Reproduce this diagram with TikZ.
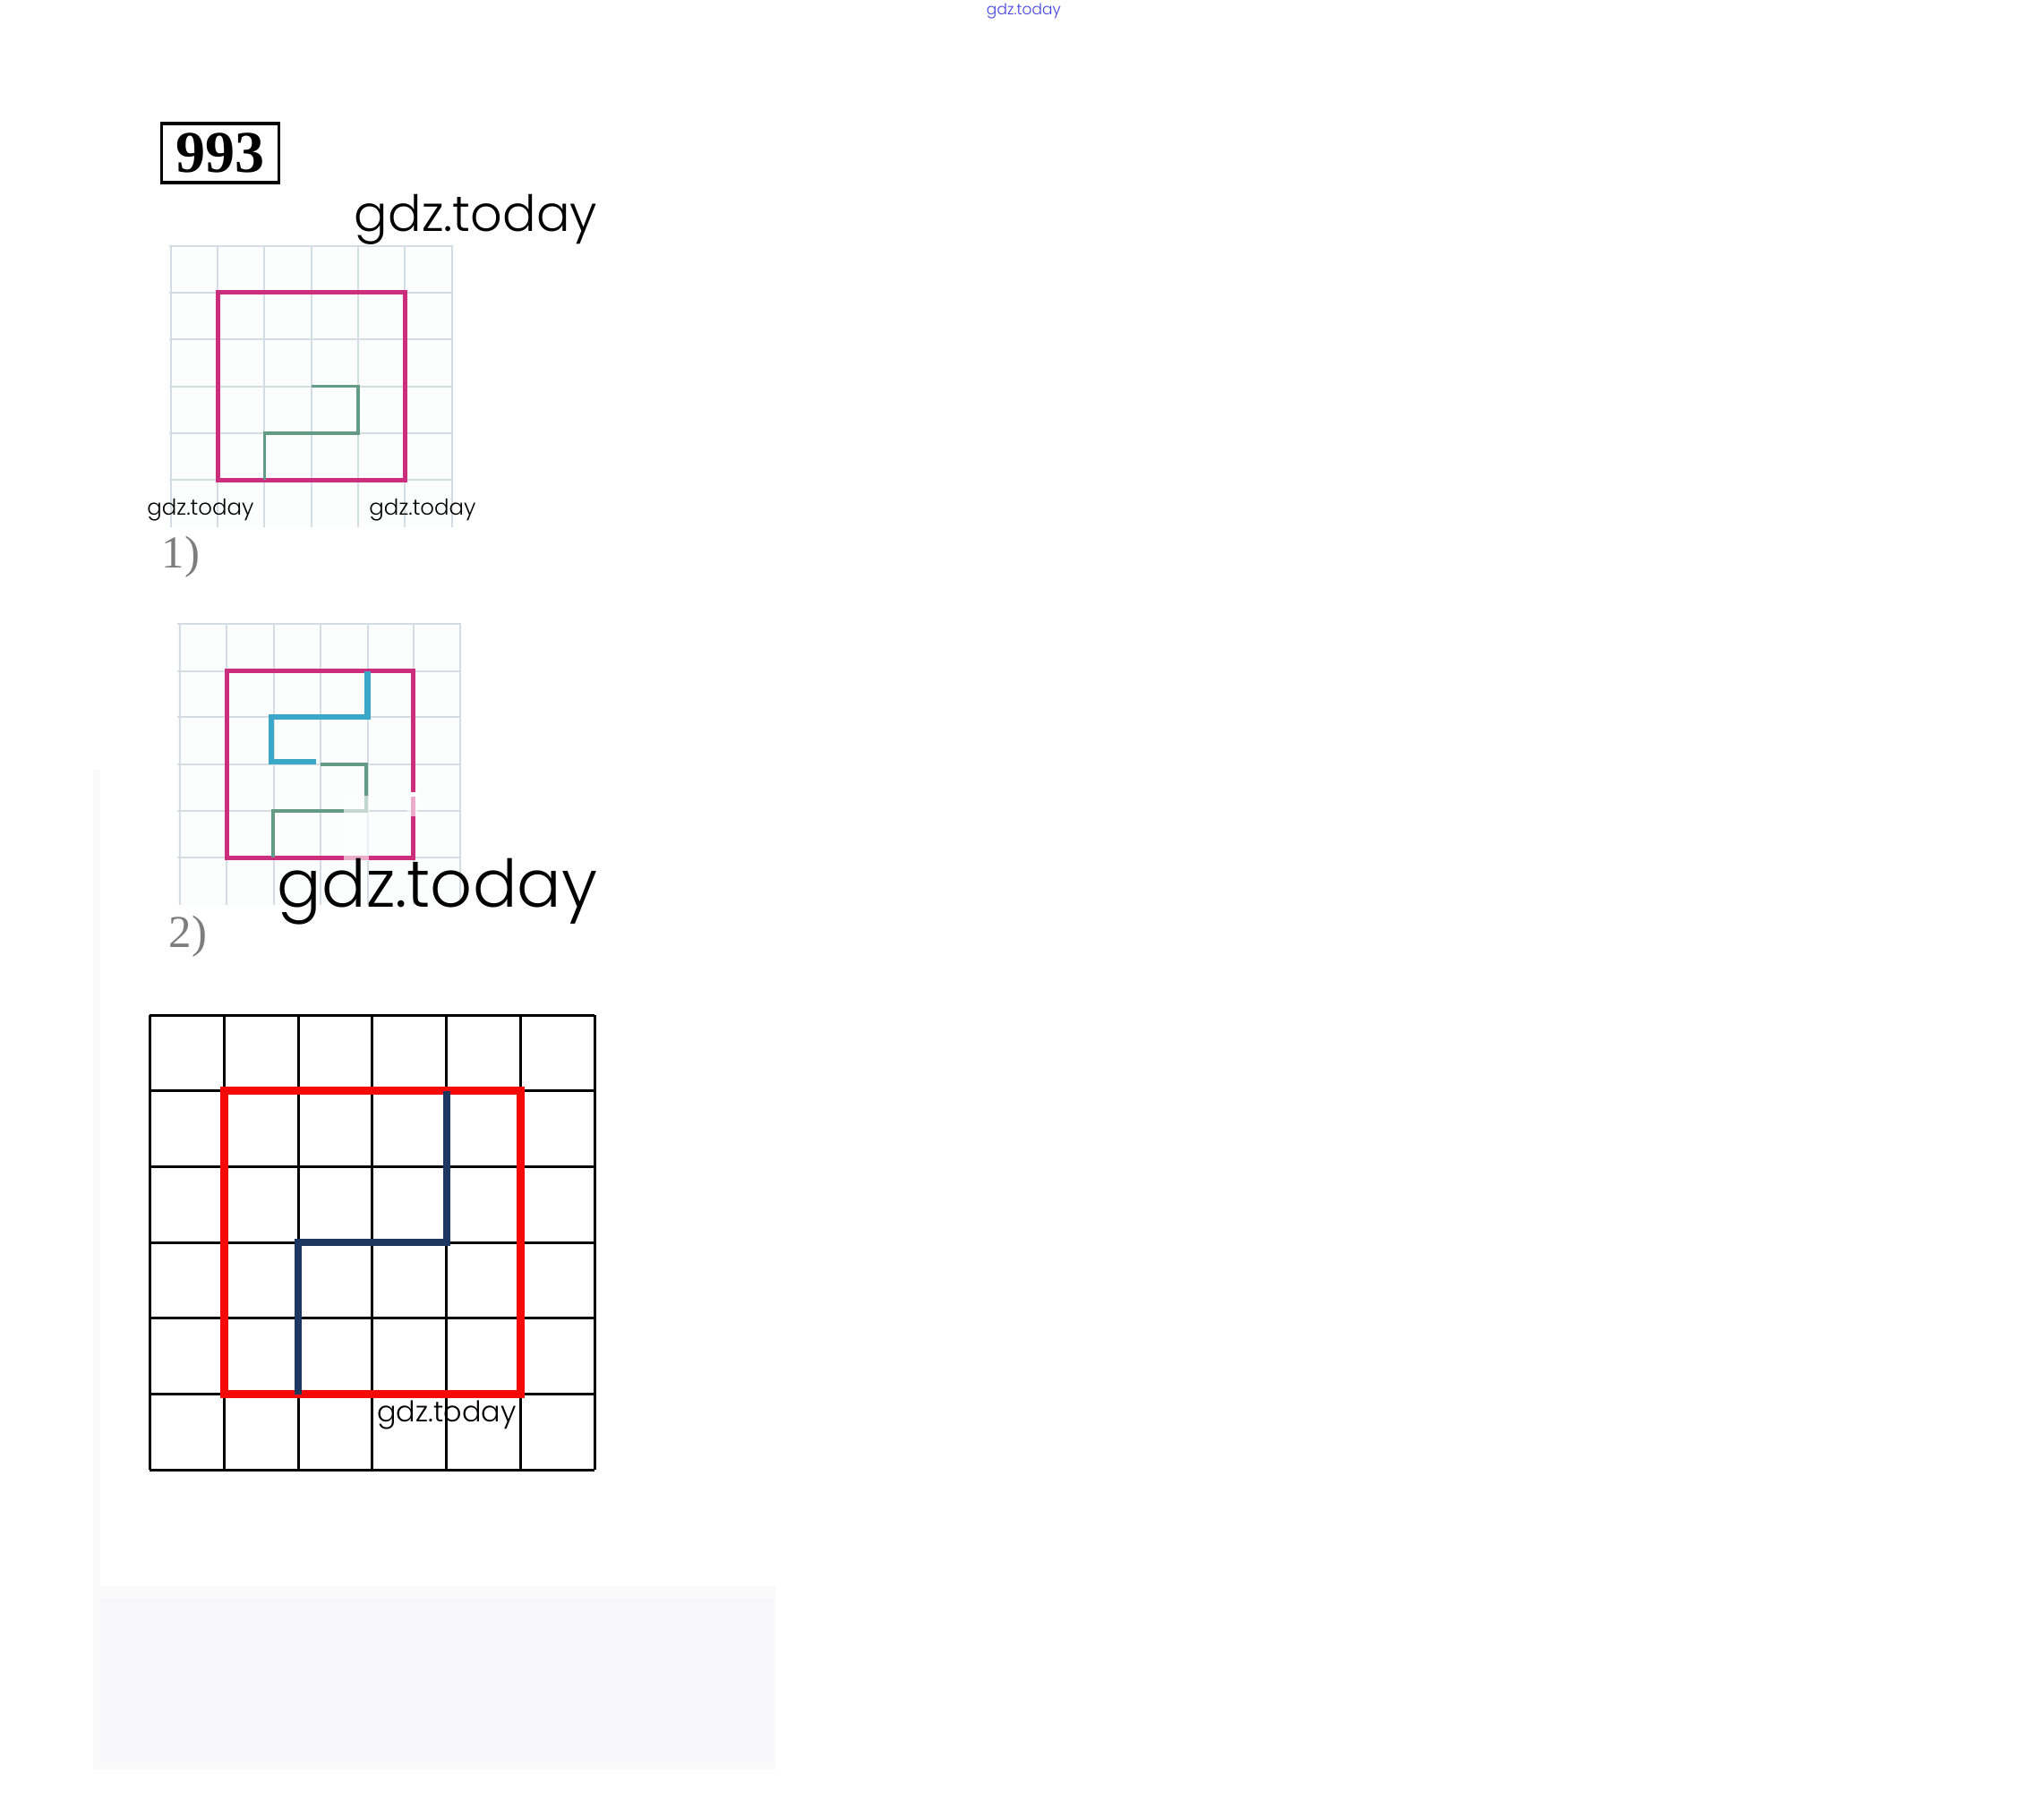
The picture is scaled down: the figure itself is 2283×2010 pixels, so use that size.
\documentclass[tikz,border=0pt]{standalone}
\usepackage{fontspec}
\setmainfont{Liberation Serif}
\newfontfamily\wmfont{Poppins Light}
\newdimen\pxu \pxu=0.28453pt
\definecolor{gridlt}{RGB}{212,221,227}
\definecolor{photobg}{RGB}{252,254,254}
\definecolor{magen}{RGB}{205,45,125}
\definecolor{greenp}{RGB}{100,155,135}
\definecolor{bluep}{RGB}{60,168,200}
\definecolor{redp}{RGB}{245,8,8}
\definecolor{navyp}{RGB}{28,56,96}
\definecolor{panelstrip}{RGB}{250,250,251}
\definecolor{panelfill}{RGB}{247,247,252}
\definecolor{labgray}{RGB}{125,125,125}
\definecolor{wmblue}{RGB}{70,70,225}
\tikzset{
  wm/.style={inner sep=0pt, text=black},
  ltgrid/.style={draw=gridlt, line width=2\pxu},
  bkgrid/.style={draw=black, line width=3\pxu},
  magbox/.style={draw=magen, line width=5\pxu},
  greenpath/.style={draw=greenp, line width=3.5\pxu},
  bluepath/.style={draw=bluep, line width=6.5\pxu},
  redbox/.style={draw=redp, line width=9\pxu, line join=miter},
  navypath/.style={draw=navyp, line width=8\pxu},
  numlabel/.style={inner sep=0pt, text=labgray, font=\fontsize{14.5pt}{16pt}\selectfont},
}
\begin{document}
\begin{tikzpicture}[x=0.01cm, y=-0.01cm]
\useasboundingbox (0,0) rectangle (2283,2010);
\fill[white] (0,0) rectangle (2283,2010);
% background panel
\fill[panelstrip] (104,860) rectangle (866,1977);
\fill[white] (112,860) rectangle (866,1772);
\fill[panelfill] (112,1785) rectangle (864,1968);

% top blue watermark
\node[inner sep=0pt, text=wmblue] (wmtop) at (1143.5,12.5) {\resizebox{83\pxu}{!}{\wmfont gdz.today}};

% problem number
\draw[line width=3.5\pxu] (180.5,138) rectangle (311.6,204);
\node[inner sep=0pt] (num) at (246,171) {\fontsize{18.8pt}{20pt}\selectfont\bfseries 993};

% watermark big top
\node[wm] (wm1) at (531.5,245) {\resizebox{271\pxu}{!}{\wmfont gdz.today}};

% ---------- picture 1 ----------
\fill[photobg] (189,274) rectangle (506,589);
\foreach \xx in {190.7,243,295.4,347.7,400,452.3,504.6}
  \draw[ltgrid] (\xx,274) -- (\xx,589);
\foreach \yy in {275,327,379.4,431.7,484,536.3}
  \draw[ltgrid] (189,\yy) -- (506,\yy);
\draw[magbox] (243,327) rectangle (452.3,536.3);
\draw[greenpath] (347.7,431.7) -- (400,431.7) -- (400,484) -- (295.4,484) -- (295.4,536.3);
\node[wm] (wm2) at (224,570) {\resizebox{119\pxu}{!}{\wmfont gdz.today}};
\node[wm] (wm3) at (472,570) {\resizebox{119\pxu}{!}{\wmfont gdz.today}};
\node[numlabel] (lab1) at (202,622) {1)};

% ---------- picture 2 ----------
\fill[photobg] (198,696) rectangle (515,1011);
\foreach \xx in {201,253,305.5,358,410.5,461.6,514}
  \draw[ltgrid] (\xx,696) -- (\xx,1011);
\foreach \yy in {697,749.5,801,853.5,906,958}
  \draw[ltgrid] (198,\yy) -- (515,\yy);
\draw[magbox] (253,749.5) rectangle (461.6,958);
\draw[bluepath] (410.5,749.5) -- (410.5,801) -- (303,801) -- (303,851) -- (353,851);
\draw[greenpath] (358,854) -- (409,854) -- (409,906) -- (305,906) -- (305,958);
\fill[white, opacity=0.6] (384,889) rectangle (412,962);
\fill[white, opacity=0.6] (455,889) rectangle (467,912);
\fill[white] (455,885) rectangle (467,890);
\node[wm] (wm4) at (488.5,996) {\resizebox{357\pxu}{!}{\wmfont gdz.today}};
\node[numlabel] (lab2) at (210,1046) {2)};

% ---------- answer grid ----------
\foreach \xx in {167.4,250.2,333,415.8,498.6,581.4,664.2}
  \draw[bkgrid] (\xx,1134) -- (\xx,1642.2);
\foreach \yy in {1134,1218.7,1303.4,1388.1,1472.8,1557.5,1642.2}
  \draw[bkgrid] (167.4,\yy) -- (664.2,\yy);
\draw[redbox] (250.2,1218.7) rectangle (581.4,1557.5);
\draw[navypath] (498.6,1218.7) -- (498.6,1388.1) -- (333,1388.1) -- (333,1557.5);
\node[wm] (wm5) at (499,1581) {\resizebox{155\pxu}{!}{\wmfont gdz.today}};
\end{tikzpicture}
\end{document}
